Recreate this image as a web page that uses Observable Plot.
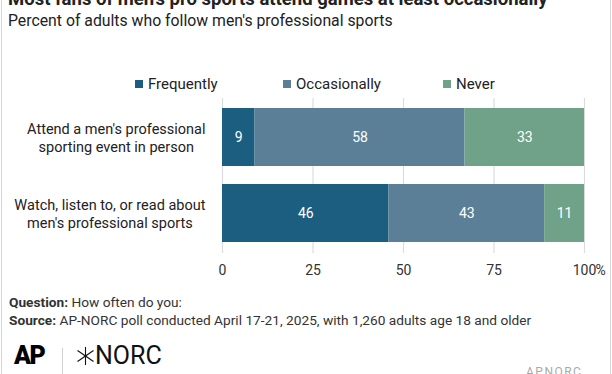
<!DOCTYPE html>
<html>
<head>
<meta charset="utf-8">
<script src="https://cdn.jsdelivr.net/npm/d3@7"></script>
<script src="https://cdn.jsdelivr.net/npm/@observablehq/plot@0.6"></script>
<style>
  html, body { margin: 0; padding: 0; background: #fff; overflow: hidden; }
  body { width: 612px; height: 374px; position: relative; font-family: Roboto, sans-serif; color: #222; }
  .frame { position: absolute; left: 1px; top: 0; width: 608px; height: 374px; border-left: 1px solid #d6d6d6; border-right: 1px solid #d6d6d6; }
  .abs { position: absolute; white-space: nowrap; }
  #title { left: 8px; top: -12px; font-size: 18.5px; font-weight: 700; color: #222; }
  #subtitle { left: 8px; top: 11px; font-size: 15.8px; color: #222; }
  #legend { left: 135px; top: 75px; font-size: 15px; color: #222; }
  #legend span.item { position: absolute; display: flex; align-items: center; }
  #legend span.sw { display: inline-block; width: 8px; height: 8px; margin-right: 5px; }
  #chart { left: 0; top: 96px; }
  .note { left: 9px; font-size: 13.7px; color: #333; }
  .note b { font-weight: 700; }
  #ap { left: 14px; top: 341px; font-size: 25px; font-weight: 900; color: #000; letter-spacing: -1.5px; }
  #sep { left: 62px; top: 348px; width: 1px; height: 30px; background: #d0d0d0; }
  #norc { left: 77px; top: 341px; font-size: 25px; color: #111; display: flex; align-items: center; }
  #norc svg { margin-right: 1px; }
  #apnorc { left: 526px; top: 365px; font-size: 12px; color: #aaa; letter-spacing: 1.5px; }
</style>
</head>
<body>
<div class="frame"></div>
<div id="title" class="abs">Most fans of men's pro sports attend games at least occasionally</div>
<div id="subtitle" class="abs">Percent of adults who follow men's professional sports</div>
<div id="legend" class="abs"></div>
<div id="chart" class="abs"></div>
<div class="abs note" style="top:294px"><b>Question:</b> How often do you:</div>
<div class="abs note" style="top:312px"><b>Source:</b> AP-NORC poll conducted April 17-21, 2025, with 1,260 adults age 18 and older</div>
<div id="ap" class="abs">AP</div>
<div id="sep" class="abs"></div>
<div id="norc" class="abs"><svg width="17" height="18" viewBox="0 0 17 18"><g stroke="#111" stroke-width="1.1"><line x1="8.5" y1="0" x2="8.5" y2="18"/><line x1="0.5" y1="3.5" x2="16.5" y2="14.5"/><line x1="0.5" y1="14.5" x2="16.5" y2="3.5"/></g></svg>NORC</div>
<div id="apnorc" class="abs">APNORC</div>
<script>
// ---- data ----
const items = [
  "Attend a men's professional\nsporting event in person",
  "Watch, listen to, or read about\nmen's professional sports"
];
const responses = ["Frequently", "Occasionally", "Never"];
const frequently = [9, 46];
const occasionally = [58, 43];
const never = [33, 11];
const xTicks = [0, 25, 50, 75, 100];
const colors = ["#1b5e7f", "#5b7f96", "#6fa288"];

const series = [frequently, occasionally, never];
const data = [];
items.forEach((item, i) => {
  responses.forEach((r, j) => data.push({item, response: r, value: series[j][i]}));
});

// legend
const legend = document.getElementById("legend");
const legendX = [0, 148, 308];
responses.forEach((r, j) => {
  const s = document.createElement("span");
  s.className = "item";
  s.style.left = legendX[j] + "px";
  s.innerHTML = `<span class="sw" style="background:${colors[j]}"></span>${r}`;
  legend.appendChild(s);
});

// y labels: lines centered within a block that is right-aligned next to the bars
const labelSize = 14.5;
const ctx = document.createElement("canvas").getContext("2d");
ctx.font = `${labelSize}px Roboto`;
const blockWidth = s => Math.max(...s.split("\n").map(l => ctx.measureText(l).width));
const gap = 17;

const chart = Plot.plot({
  width: 612,
  height: 190,
  marginLeft: 222,
  marginRight: 28,
  marginTop: 2,
  marginBottom: 33,
  style: {fontFamily: "Roboto, sans-serif", fontSize: "14px", color: "#333", background: "transparent"},
  x: {domain: [0, 100], ticks: xTicks, axis: null},
  y: {domain: items, paddingInner: 0.234, paddingOuter: 0.13, axis: null},
  color: {domain: responses, range: colors},
  marks: [
    Plot.gridX(xTicks, {stroke: "#dcdcdc", strokeOpacity: 1, strokeWidth: 1.2}),
    Plot.barX(data, Plot.stackX({x: "value", y: "item", fill: "response", order: responses})),
    Plot.textX(data, Plot.stackX({x: "value", y: "item", z: "response", order: responses, text: d => String(d.value), fill: "white", fontSize: 14})),
    Plot.axisX(xTicks, {tickSize: 0, tickPadding: 12, tickFormat: d => String(d), fontSize: 14, fill: "#333", anchor: "bottom", label: null}),
    Plot.text(["%"], {x: () => 100, frameAnchor: "bottom", lineAnchor: "top", dy: 12, dx: 11, textAnchor: "start", fontSize: 14, fill: "#333"}),
    ...items.map(item => Plot.text([item], {
      y: d => d, text: d => d, frameAnchor: "left", textAnchor: "middle",
      dx: -(gap + blockWidth(item) / 2), fontSize: labelSize, fill: "#222", lineHeight: 1.2
    }))
  ]
});
document.getElementById("chart").appendChild(chart);
</script>
</body>
</html>
